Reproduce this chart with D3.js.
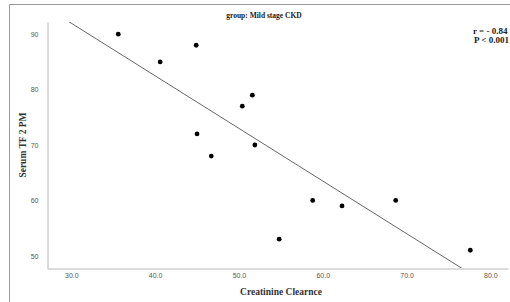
<!DOCTYPE html>
<html><head><meta charset="utf-8">
<script src="https://cdn.jsdelivr.net/npm/d3@7/dist/d3.min.js"></script>
<style>body{margin:0;background:#fff;}svg{display:block;}</style>
</head><body>
<script>
const title = "group: Mild stage CKD";
const xLabel = "Creatinine Clearnce";
const yLabel = "Serum TF 2 PM";
const creatinine = [35.6, 44.9, 40.6, 51.6, 50.4, 45.0, 51.9, 46.7, 58.8, 54.8, 62.3, 68.7, 77.6];
const serumTF2PM = [90, 88, 85, 79, 77, 72, 70, 68, 60, 53, 59, 60, 51];
const xTicks = [30, 40, 50, 60, 70, 80];
const yTicks = [50, 60, 70, 80, 90];
const statLines = ["r = - 0.84", "P < 0.001"];

const W = 510, H = 302;
const svg = d3.select("body").append("svg").attr("width", W).attr("height", H);
svg.append("rect").attr("width", W).attr("height", H).attr("fill", "#fff");

// frame
svg.append("path").attr("d", `M9.5,${H} V4.5 H${W}`).attr("fill", "none").attr("stroke", "#9a9a9a").attr("stroke-width", 1);

const x = d3.scaleLinear().domain([27.1, 82.1]).range([47, 508]);
const y = d3.scaleLinear().domain([47.8, 92.2]).range([268, 22]);

const defs = svg.append("defs");
defs.append("clipPath").attr("id", "plotclip").append("rect")
  .attr("x", 47).attr("y", 22).attr("width", 461).attr("height", 246);

// axes
const xa = svg.append("g").attr("transform", "translate(0,268.5)")
  .call(d3.axisBottom(x).tickValues(xTicks).tickSize(0).tickSizeOuter(0).tickFormat(d3.format(".1f")).tickPadding(5));
const ya = svg.append("g").attr("transform", "translate(47.5,0)")
  .call(d3.axisLeft(y).tickValues(yTicks).tickSize(0).tickSizeOuter(0).tickFormat(d3.format("d")).tickPadding(9));
[xa, ya].forEach(g => {
  g.select(".domain").attr("stroke", "#b8b8b8").attr("stroke-width", 1);
  g.selectAll("text").attr("font-family", "Liberation Sans, Arial, sans-serif").attr("font-size", 7).attr("fill", "#555");
});

// regression line
const n = creatinine.length;
const mx = d3.mean(creatinine), my = d3.mean(serumTF2PM);
let sxy = 0, sxx = 0;
for (let i = 0; i < n; i++) { sxy += (creatinine[i]-mx)*(serumTF2PM[i]-my); sxx += (creatinine[i]-mx)**2; }
const slope = sxy / sxx, icpt = my - slope * mx;
const [x0, x1] = x.domain();
svg.append("line").attr("clip-path", "url(#plotclip)")
  .attr("x1", x(x0)).attr("y1", y(icpt + slope*x0))
  .attr("x2", x(x1)).attr("y2", y(icpt + slope*x1))
  .attr("stroke", "#666").attr("stroke-width", 1);

// points
svg.append("g").selectAll("circle").data(creatinine).join("circle")
  .attr("cx", d => x(d)).attr("cy", (d, i) => y(serumTF2PM[i]))
  .attr("r", 2.4).attr("fill", "#000");

// texts
svg.append("text").attr("x", 264).attr("y", 18).attr("text-anchor", "middle")
  .attr("font-family", "Liberation Serif, Times New Roman, serif").attr("font-weight", "bold")
  .attr("font-size", 7.5).attr("fill", "#222").text(title);
svg.append("text").attr("x", 281).attr("y", 295).attr("text-anchor", "middle")
  .attr("font-family", "Liberation Serif, Times New Roman, serif").attr("font-weight", "bold")
  .attr("font-size", 9.5).attr("fill", "#333").text(xLabel);
svg.append("text").attr("transform", "translate(26,145) rotate(-90)").attr("text-anchor", "middle")
  .attr("font-family", "Liberation Serif, Times New Roman, serif").attr("font-weight", "bold")
  .attr("font-size", 9.5).attr("fill", "#333").text(yLabel);
svg.append("g").selectAll("text").data(statLines).join("text")
  .attr("x", (d, i) => 473 + i).attr("y", (d, i) => 34 + i * 9)
  .attr("font-family", "Liberation Serif, Times New Roman, serif").attr("font-weight", "bold")
  .attr("font-size", 9).attr("fill", "#222").text(d => d);
</script>
</body></html>
